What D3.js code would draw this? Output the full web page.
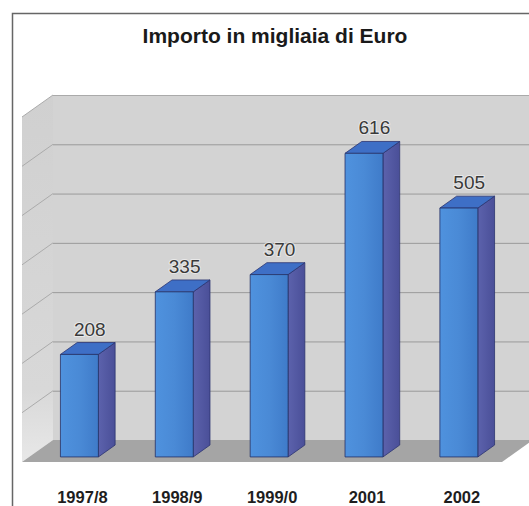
<!DOCTYPE html>
<html>
<head>
<meta charset="utf-8">
<script src="https://cdn.jsdelivr.net/npm/d3@7"></script>
<style>
  body { margin: 0; background: #fff; }
  svg { display: block; font-family: "Liberation Sans", Arial, sans-serif; }
</style>
</head>
<body>
<div id="chart"></div>
<script>
var categories = ["1997/8", "1998/9", "1999/0", "2001", "2002"];
var values = [208, 335, 370, 616, 505];
var yMax = 700;
var title = "Importo in migliaia di Euro";

var width = 529, height = 506;

// 3d box: front floor edge, depth offset towards the back wall
var front = { left: 22, right: 502, floor: 462 };
var depth = { dx: 31, dy: 22 };
var barDepth = [0.23, 0.77];

var svg = d3.select("#chart").append("svg")
  .attr("width", width)
  .attr("height", height);

var defs = svg.append("defs");
function grad(id, stops, x2, y2) {
  var g = defs.append("linearGradient").attr("id", id)
    .attr("x1", 0).attr("y1", 0).attr("x2", x2).attr("y2", y2);
  stops.forEach(function(s) {
    g.append("stop").attr("offset", s[0]).attr("stop-color", s[1]);
  });
}
grad("barFront", [[0, "#4f92de"], [0.5, "#4a8ad6"], [1, "#3f7bc9"]], 1, 0);
grad("barSide", [[0, "#5c62ac"], [1, "#4a4f98"]], 1, 0);
grad("sideWall", [[0, "#d0d0d0"], [0.8, "#d8d8d8"], [1, "#e8e8e8"]], 0, 1);

var x = d3.scaleBand()
  .domain(categories)
  .range([front.left, front.right])
  .paddingInner(0.6)
  .paddingOuter(0.33);

var y = d3.scaleLinear()
  .domain([0, yMax])
  .range([front.floor, front.floor - 345]);

// project (screen x at front, value, depth 0..1) onto the picture
function pt(px, v, z) {
  return [px + z * depth.dx, y(v) - z * depth.dy];
}
function poly(points) {
  return points.map(function(p) { return p.join(","); }).join(" ");
}

// frame
svg.append("rect")
  .attr("x", 12.5).attr("y", 13.5)
  .attr("width", width).attr("height", height)
  .attr("fill", "none")
  .attr("stroke", "#666")
  .attr("stroke-width", 1.5);

svg.append("text")
  .attr("x", 275).attr("y", 43)
  .attr("text-anchor", "middle")
  .attr("font-size", 21)
  .attr("font-weight", "bold")
  .attr("fill", "#1a1a1a")
  .text(title);

// back wall
svg.append("polygon")
  .attr("points", poly([pt(front.left, 0, 1), pt(front.right, 0, 1), pt(front.right, yMax, 1), pt(front.left, yMax, 1)]))
  .attr("fill", "#d3d3d3");

// side wall
svg.append("polygon")
  .attr("points", poly([pt(front.left, 0, 0), pt(front.left, 0, 1), pt(front.left, yMax, 1), pt(front.left, yMax, 0)]))
  .attr("fill", "url(#sideWall)");

var ticks = y.ticks(7).filter(function(d) { return d > 0; });

svg.append("g").selectAll("line")
  .data(ticks)
  .enter().append("line")
  .attr("x1", function(d) { return pt(front.left, d, 1)[0]; })
  .attr("y1", function(d) { return pt(front.left, d, 1)[1] + 0.5; })
  .attr("x2", function(d) { return pt(front.right, d, 1)[0]; })
  .attr("y2", function(d) { return pt(front.right, d, 1)[1] + 0.5; })
  .attr("stroke", function(d) { return d == yMax ? "#aaa" : "#9a9a9a"; })
  .attr("stroke-width", 1);

svg.append("g").selectAll("line")
  .data(ticks)
  .enter().append("line")
  .attr("x1", function(d) { return pt(front.left, d, 0)[0]; })
  .attr("y1", function(d) { return pt(front.left, d, 0)[1]; })
  .attr("x2", function(d) { return pt(front.left, d, 1)[0]; })
  .attr("y2", function(d) { return pt(front.left, d, 1)[1]; })
  .attr("stroke", "#ababab")
  .attr("stroke-width", 1);

// floor
svg.append("polygon")
  .attr("points", poly([pt(front.left, 0, 0), pt(front.right, 0, 0), pt(front.right, 0, 1), pt(front.left, 0, 1)]))
  .attr("fill", "#a5a5a5");

// bars
var bars = svg.append("g").selectAll("g")
  .data(categories)
  .enter().append("g");

bars.each(function(c, i) {
  var g = d3.select(this);
  var x0 = x(c), x1 = x(c) + x.bandwidth();
  var v = values[i];
  var z0 = barDepth[0], z1 = barDepth[1];
  g.append("polygon")
    .attr("points", poly([pt(x1, 0, z0), pt(x1, 0, z1), pt(x1, v, z1), pt(x1, v, z0)]))
    .attr("fill", "url(#barSide)")
    .attr("stroke", "#2b3470").attr("stroke-width", 0.8);
  g.append("polygon")
    .attr("points", poly([pt(x0, v, z0), pt(x1, v, z0), pt(x1, v, z1), pt(x0, v, z1)]))
    .attr("fill", "#3e6fc6")
    .attr("stroke", "#2b3470").attr("stroke-width", 0.8);
  g.append("polygon")
    .attr("points", poly([pt(x0, 0, z0), pt(x1, 0, z0), pt(x1, v, z0), pt(x0, v, z0)]))
    .attr("fill", "url(#barFront)")
    .attr("stroke", "#243066").attr("stroke-width", 0.8);

  var top = pt((x0 + x1) / 2, v, (z0 + z1) / 2);
  g.append("text")
    .attr("x", top[0] + 2)
    .attr("y", pt(x0, v, z1)[1] - 7)
    .attr("text-anchor", "middle")
    .attr("font-size", 19)
    .attr("fill", "#3a3a3a")
    .attr("stroke", "#fff")
    .attr("stroke-width", 2)
    .attr("stroke-opacity", 0.5)
    .attr("paint-order", "stroke")
    .text(v);

  g.append("text")
    .attr("x", pt((x0 + x1) / 2, 0, z0)[0] + 3)
    .attr("y", 503)
    .attr("text-anchor", "middle")
    .attr("font-size", 16.5)
    .attr("font-weight", "bold")
    .attr("fill", "#1e1e1e")
    .text(c);
});
</script>
</body>
</html>
